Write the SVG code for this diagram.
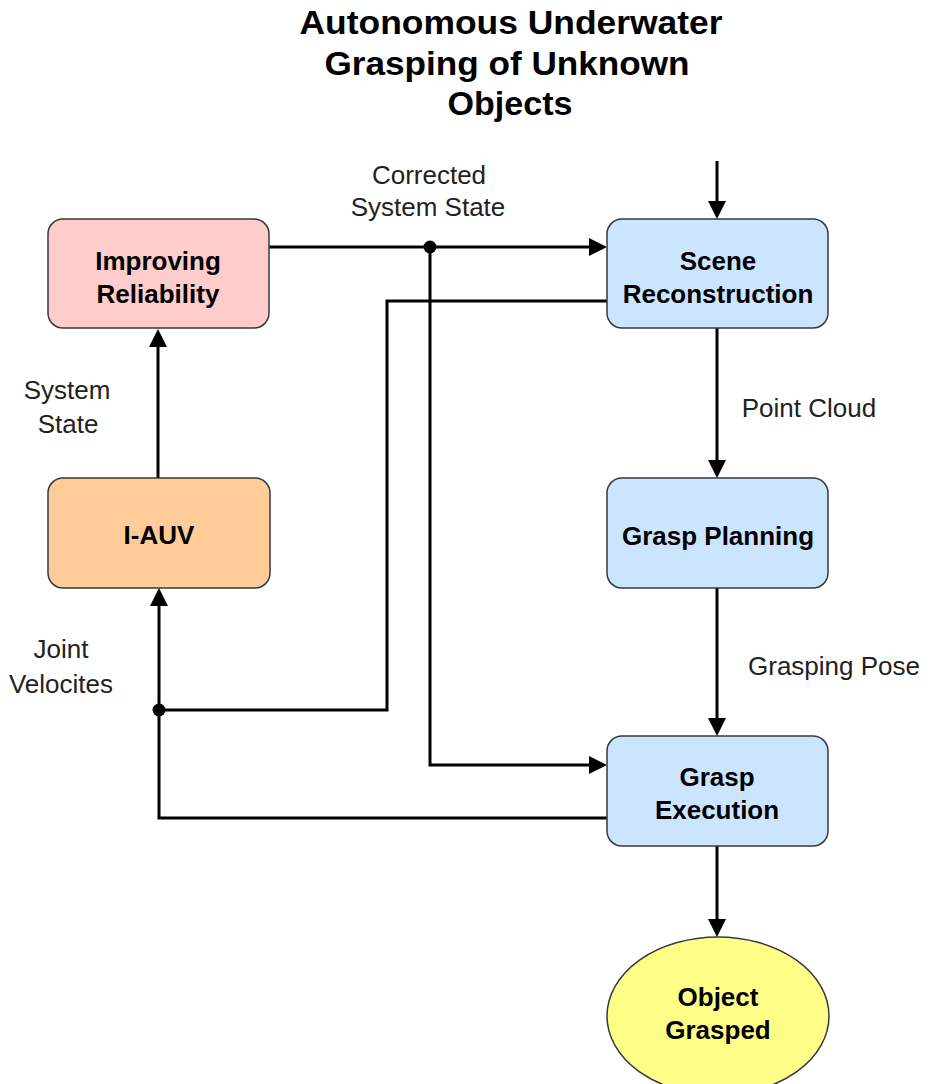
<svg xmlns="http://www.w3.org/2000/svg" width="930" height="1084" viewBox="0 0 930 1084">
<style>
.node{stroke:#36393d;stroke-width:1.5}
.lbl{font-family:"Liberation Sans",Arial,sans-serif;font-size:26px;font-weight:bold;fill:#000;text-anchor:middle}
.elbl{font-family:"Liberation Sans",Arial,sans-serif;font-size:26px;fill:#222;text-anchor:middle}
.title{font-family:"Liberation Sans",Arial,sans-serif;font-size:33px;font-weight:bold;fill:#000;text-anchor:middle}
.edge{fill:none;stroke:#000;stroke-width:3}
</style>
<defs>
<marker id="arr" markerUnits="userSpaceOnUse" markerWidth="20" markerHeight="20" refX="12" refY="9" orient="auto">
<path d="M0,0 L18,9 L0,18 z" fill="#000"/>
</marker>
</defs>
<rect width="930" height="1084" fill="#fff"/>
<g id="title">
<text class="title" x="511" y="34" textLength="423" lengthAdjust="spacingAndGlyphs">Autonomous Underwater</text>
<text class="title" x="507" y="75" textLength="365" lengthAdjust="spacingAndGlyphs">Grasping of Unknown</text>
<text class="title" x="510" y="115" textLength="125" lengthAdjust="spacingAndGlyphs">Objects</text>
</g>
<g id="connectors">
<path class="edge" d="M269,247 L601,247" marker-end="url(#arr)"/>
<path class="edge" d="M430,247 L430,765 L601,765" marker-end="url(#arr)"/>
<path class="edge" d="M607,301 L387,301 L387,710 L159,710"/>
<path class="edge" d="M607,818 L159,818 L159,594" marker-end="url(#arr)"/>
<path class="edge" d="M717,161 L717,213" marker-end="url(#arr)"/>
<path class="edge" d="M717,328 L717,472" marker-end="url(#arr)"/>
<path class="edge" d="M717,588 L717,730" marker-end="url(#arr)"/>
<path class="edge" d="M717,846 L717,931" marker-end="url(#arr)"/>
<path class="edge" d="M158,478 L158,335" marker-end="url(#arr)"/>
<circle cx="430" cy="247" r="6.5" fill="#000"/>
<circle cx="159" cy="710" r="6.5" fill="#000"/>
<text class="elbl" x="429" y="184">Corrected</text>
<text class="elbl" x="428" y="216">System State</text>
<text class="elbl" x="67" y="399">System</text>
<text class="elbl" x="68" y="433">State</text>
<text class="elbl" x="61" y="658">Joint</text>
<text class="elbl" x="61" y="693">Velocites</text>
<text class="elbl" x="809" y="417">Point Cloud</text>
<text class="elbl" x="834" y="675">Grasping Pose</text>
</g>
<g id="improving-reliability">
<rect class="node" x="48" y="219" width="221" height="109" rx="15" fill="#ffcccc"/>
<text class="lbl" x="158" y="270">Improving</text>
<text class="lbl" x="158" y="303">Reliability</text>
</g>
<g id="i-auv">
<rect class="node" x="48" y="478" width="222" height="110" rx="15" fill="#ffcc99"/>
<text class="lbl" x="159" y="544">I-AUV</text>
</g>
<g id="scene-reconstruction">
<rect class="node" x="607" y="219" width="221" height="109" rx="15" fill="#cce5ff"/>
<text class="lbl" x="718" y="270">Scene</text>
<text class="lbl" x="718" y="303">Reconstruction</text>
</g>
<g id="grasp-planning">
<rect class="node" x="607" y="478" width="221" height="110" rx="15" fill="#cce5ff"/>
<text class="lbl" x="718" y="545">Grasp Planning</text>
</g>
<g id="grasp-execution">
<rect class="node" x="607" y="736" width="221" height="110" rx="15" fill="#cce5ff"/>
<text class="lbl" x="717" y="786">Grasp</text>
<text class="lbl" x="717" y="819">Execution</text>
</g>
<g id="object-grasped">
<ellipse class="node" cx="718" cy="1016" rx="111" ry="79" fill="#ffff88"/>
<text class="lbl" x="718" y="1006">Object</text>
<text class="lbl" x="718" y="1039">Grasped</text>
</g>
</svg>
